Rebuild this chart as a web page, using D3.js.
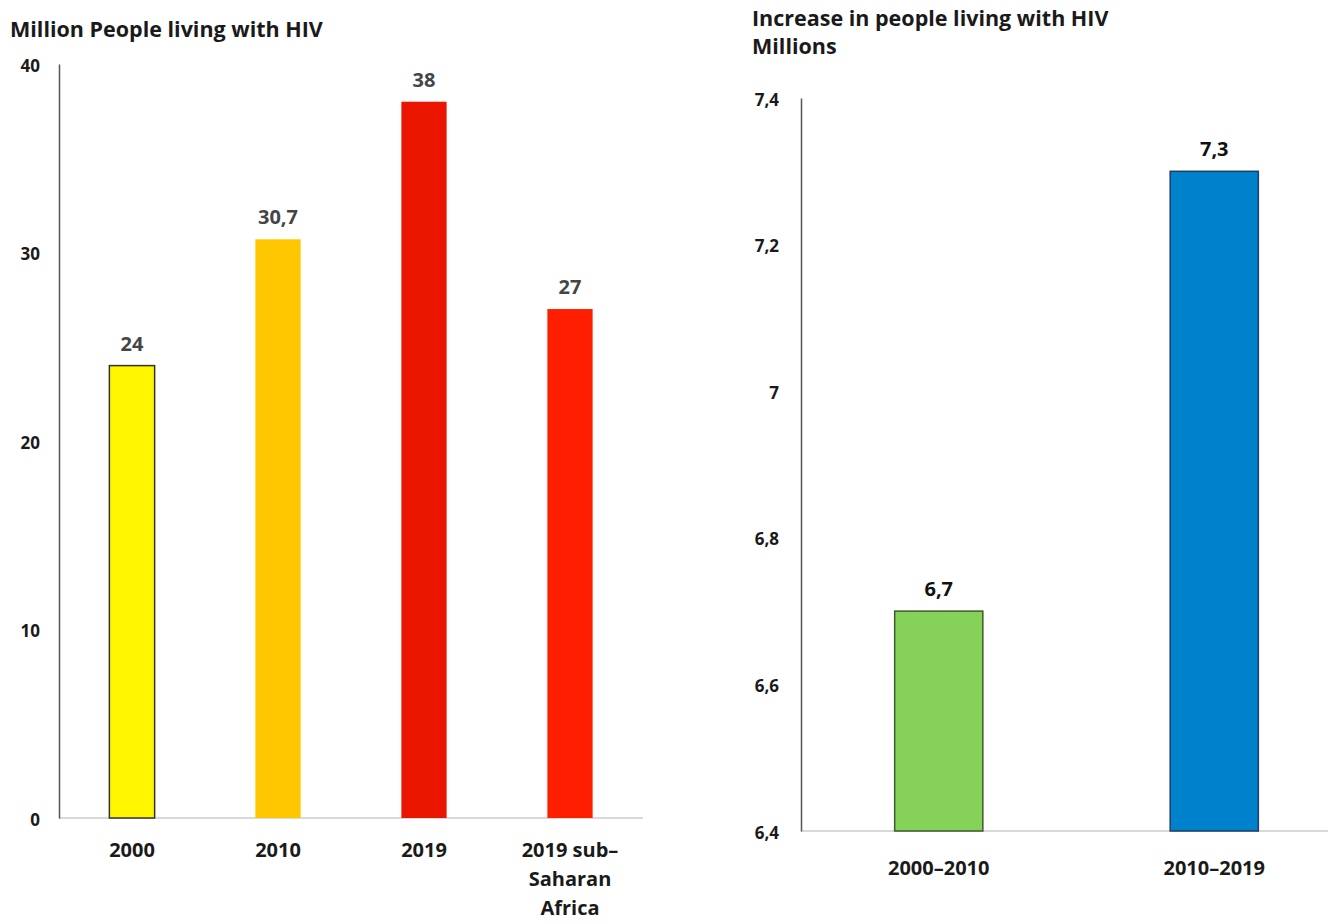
<!DOCTYPE html>
<html>
<head>
<meta charset="utf-8">
<script src="https://cdn.jsdelivr.net/npm/d3@7"></script>
<style>
  html, body { margin: 0; padding: 0; background: #fff; }
  svg { display: block; font-family: "Open Sans", Lato, sans-serif; }
</style>
</head>
<body>
<svg id="chart" width="1328" height="924"></svg>
<script>
// People living with HIV (millions)
const totalCategories = ["2000", "2010", "2019", "2019 sub–|Saharan|Africa"];
const totalValues = [24, 30.7, 38, 27];
const totalColors = ["#FFF500", "#FFC700", "#EA1600", "#FF1E00"];
const totalStrokes = ["#333333", "none", "none", "none"];
const totalTicks = [0, 10, 20, 30, 40];

// Increase over each period (millions)
const increaseCategories = ["2000–2010", "2010–2019"];
const increaseValues = [6.7, 7.3];
const increaseColors = ["#86D158", "#0081CC"];
const increaseStrokes = ["#3D5A2C", "#1E3E66"];
const increaseTicks = [6.4, 6.6, 6.8, 7, 7.2, 7.4];

const locale = d3.formatLocale({ decimal: ",", thousands: ".", grouping: [3], currency: ["", ""] });
const fmt = locale.format("~g");

const svg = d3.select("#chart");

function drawPanel(cfg) {
  const g = svg.append("g");
  const x = d3.scaleBand()
    .domain(cfg.categories)
    .range(cfg.xRange)
    .paddingInner(cfg.padInner)
    .paddingOuter(cfg.padInner / 2);
  const y = d3.scaleLinear().domain(cfg.domain).range(cfg.yRange);

  // title lines
  cfg.title.forEach((t, i) => {
    g.append("text")
      .attr("x", cfg.titleX)
      .attr("y", cfg.titleY + i * 28)
      .attr("font-size", 21.5)
      .attr("font-weight", 700)
      .attr("fill", "#1a1a1a")
      .text(t);
  });

  // baseline
  g.append("line")
    .attr("x1", cfg.xRange[0]).attr("x2", cfg.baselineEnd)
    .attr("y1", y(cfg.domain[0])).attr("y2", y(cfg.domain[0]))
    .attr("stroke", "#d9d9d9").attr("stroke-width", 2);

  // y axis
  const axis = d3.axisLeft(y)
    .tickValues(cfg.ticks)
    .tickFormat(fmt)
    .tickSize(0)
    .tickPadding(cfg.tickPad);
  const ax = g.append("g")
    .attr("transform", `translate(${cfg.xRange[0]},0)`)
    .call(axis);
  ax.select(".domain").attr("stroke", "#555").attr("stroke-width", 1.5);
  ax.selectAll(".tick text")
    .attr("font-family", "'Open Sans', sans-serif")
    .attr("font-size", 17)
    .attr("font-weight", 700)
    .attr("fill", "#1a1a1a")
    .attr("dy", "0.42em");

  // bars
  g.selectAll("rect.bar")
    .data(cfg.values)
    .join("rect")
    .attr("class", "bar")
    .attr("x", (d, i) => x(cfg.categories[i]))
    .attr("width", x.bandwidth())
    .attr("y", d => y(d))
    .attr("height", d => y(cfg.domain[0]) - y(d))
    .attr("fill", (d, i) => cfg.colors[i])
    .attr("stroke", (d, i) => cfg.strokes[i])
    .attr("stroke-width", 1.5);

  // value labels
  g.selectAll("text.val")
    .data(cfg.values)
    .join("text")
    .attr("class", "val")
    .attr("x", (d, i) => x(cfg.categories[i]) + x.bandwidth() / 2)
    .attr("y", d => y(d) - 15)
    .attr("text-anchor", "middle")
    .attr("font-size", 20)
    .attr("font-weight", 700)
    .attr("fill", cfg.valueColor)
    .text(d => fmt(d));

  // category labels
  cfg.categories.forEach(c => {
    const t = g.append("text")
      .attr("x", x(c) + x.bandwidth() / 2)
      .attr("y", cfg.catY)
      .attr("text-anchor", "middle")
      .attr("font-size", 20)
      .attr("font-weight", 700)
      .attr("fill", "#1a1a1a");
    c.split("|").forEach((line, i) => {
      t.append("tspan")
        .attr("x", x(c) + x.bandwidth() / 2)
        .attr("dy", i === 0 ? 0 : 29)
        .text(line);
    });
  });
}

drawPanel({
  categories: totalCategories,
  values: totalValues,
  colors: totalColors,
  strokes: totalStrokes,
  ticks: totalTicks,
  domain: [0, 40],
  xRange: [59, 643],
  yRange: [818, 64],
  padInner: 0.69,
  baselineEnd: 643,
  tickPad: 19,
  title: ["Million People living with HIV"],
  titleX: 10,
  titleY: 37,
  catY: 857,
  valueColor: "#454545"
});

drawPanel({
  categories: increaseCategories,
  values: increaseValues,
  colors: increaseColors,
  strokes: increaseStrokes,
  ticks: increaseTicks,
  domain: [6.4, 7.4],
  xRange: [801, 1352],
  yRange: [831, 98],
  padInner: 0.68,
  baselineEnd: 1328,
  tickPad: 22,
  title: ["Increase in people living with HIV", "Millions"],
  titleX: 752,
  titleY: 26,
  catY: 875,
  valueColor: "#111111"
});
</script>
</body>
</html>
